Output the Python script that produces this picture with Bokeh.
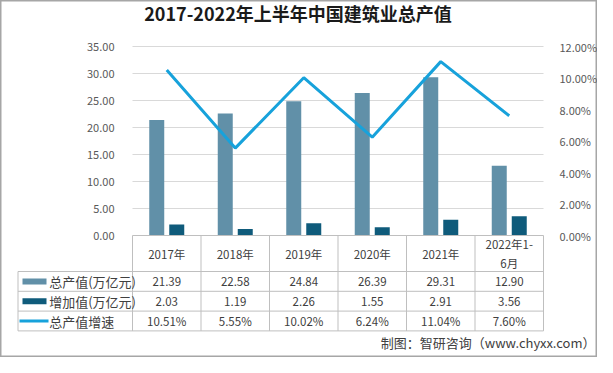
from bokeh.plotting import figure
from bokeh.models import (Range1d, LinearAxis, FixedTicker, NumeralTickFormatter, ColumnDataSource)
from bokeh.transform import dodge
from bokeh.core.properties import value
from bokeh.embed import file_html
from bokeh.resources import INLINE

# ---------------- data ----------------
years = ["2017年", "2018年", "2019年", "2020年", "2021年", "2022年1-\n6月"]
output = [21.39, 22.58, 24.84, 26.39, 29.31, 12.90]      # 总产值(万亿元)
added = [2.03, 1.19, 2.26, 1.55, 2.91, 3.56]             # 增加值(万亿元)
growth = [10.51, 5.55, 10.02, 6.24, 11.04, 7.60]         # 总产值增速 (%)
row_names = ["总产值(万亿元)", "增加值(万亿元)", "总产值增速"]
left_ticks = [0, 5, 10, 15, 20, 25, 30, 35]
right_ticks = [0, 0.02, 0.04, 0.06, 0.08, 0.10, 0.12]
title_text = "2017-2022年上半年中国建筑业总产值"
source_text = "制图：智研咨询（www.chyxx.com）"

# ---------------- style / layout constants ----------------
C1 = "#6190a8"
C2 = "#0f5b7b"
C3 = "#17a2db"
GRID = "#d9d9d9"
TBL = "#bfbfbf"
FONT = "Noto Sans CJK SC"

W, H = 597, 357
X0_PX, COL_PX = 132, 68.5          # left edge of first column, column width
Y0_PX, YTOP_PX = 235, 46           # pixel rows of value 0 and value 35
HEADER_H, ROW_H = 36, 19.8


def xpx(px):
    return (px - X0_PX) / COL_PX


n = len(years)
xc = [i + 0.5 for i in range(n)]
ppu = (Y0_PX - YTOP_PX) / left_ticks[-1]
y_start = -(H - Y0_PX) / ppu
y_end = left_ticks[-1] + YTOP_PX / ppu
pscale = right_ticks[-1] / left_ticks[-1]

src = ColumnDataSource(dict(x=xc, output=output, added=added,
                            growth=[g / 100 for g in growth]))

p = figure(width=W, height=H, x_range=Range1d(xpx(0), xpx(W)),
           y_range=Range1d(y_start, y_end),
           output_backend="svg", toolbar_location=None,
           min_border_left=0, min_border_right=0, min_border_top=0, min_border_bottom=0,
           x_axis_location=None, y_axis_location=None)
p.grid.visible = False
p.outline_line_color = "#a6a6a6"
p.outline_line_width = 2
p.background_fill_color = "white"
p.border_fill_color = "white"
p.extra_y_ranges = {"pct": Range1d(y_start * pscale, y_end * pscale),
                    "tbl": Range1d(H - Y0_PX, -Y0_PX)}

# gridlines
gt = left_ticks[1:]
p.segment(x0=[0] * len(gt), y0=gt, x1=[n] * len(gt), y1=gt, line_color=GRID, line_width=1)

# bars and line
p.vbar(x=dodge("x", -0.146), top="output", width=0.219, source=src,
       fill_color=C1, line_color=None)
p.vbar(x=dodge("x", 0.146), top="added", width=0.219, source=src,
       fill_color=C2, line_color=None)
p.line("x", "growth", source=src, y_range_name="pct", line_width=3, line_color=C3)

# axes fixed at the edges of the category area
ya = LinearAxis(fixed_location=0, ticker=FixedTicker(ticks=left_ticks),
                formatter=NumeralTickFormatter(format="0.00"))
ra = LinearAxis(fixed_location=n, y_range_name="pct", ticker=FixedTicker(ticks=right_ticks),
                formatter=NumeralTickFormatter(format="0.00%"))
for ax in (ya, ra):
    ax.axis_line_color = None
    ax.major_tick_line_color = None
    ax.minor_tick_line_color = None
    ax.major_label_text_font = FONT
    ax.major_label_text_font_size = "11px"
    ax.major_label_text_color = "#595959"
ya.major_label_standoff = 12
ra.major_label_standoff = 10
p.add_layout(ya, "left")
p.add_layout(ra, "right")

# ---------------- data table ----------------
LEFT = xpx(17.5)
nrows = len(row_names)
bounds = [HEADER_H + ROW_H * r for r in range(nrows + 1)]
centers = [HEADER_H + ROW_H * (r + 0.5) for r in range(nrows)]

hx0 = [0] + [LEFT] * len(bounds)
hx1 = [n] * (len(bounds) + 1)
hy = [0] + bounds
p.segment(x0=hx0, y0=hy, x1=hx1, y1=hy, y_range_name="tbl", line_color=TBL, line_width=1)
vx = list(range(n + 1)) + [LEFT]
vy0 = [0] * (n + 1) + [bounds[0]]
vy1 = [bounds[-1]] * (n + 2)
p.segment(x0=vx, y0=vy0, x1=vx, y1=vy1, y_range_name="tbl", line_color=TBL, line_width=1)

# header (categories)
p.text(x=xc, y=[HEADER_H / 2] * n, text=years, y_range_name="tbl",
       text_align="center", text_baseline="middle",
       text_font=value(FONT), text_font_size="11.5px", text_color="#404040")

cells_x, cells_y, cells_t = [], [], []
for i in range(n):
    cells_x += [xc[i]] * nrows
    cells_y += centers
    cells_t += [f"{output[i]:.2f}", f"{added[i]:.2f}", f"{growth[i]:.2f}%"]
p.text(x=cells_x, y=cells_y, text=cells_t, y_range_name="tbl",
       text_align="center", text_baseline="middle",
       text_font=value(FONT), text_font_size="11.5px", text_color="#404040")

p.text(x=[xpx(48.7)] * nrows, y=centers, text=row_names, y_range_name="tbl",
       text_align="left", text_baseline="middle",
       text_font=value(FONT), text_font_size="13px", text_color="#404040")
p.rect(x=[xpx(34)] * 2, y=centers[:2], width=24, height=6, y_range_name="tbl",
       width_units="screen", height_units="screen",
       fill_color=[C1, C2], line_color=None)
p.segment(x0=[xpx(19)], y0=[centers[2]], x1=[xpx(48)], y1=[centers[2]], y_range_name="tbl",
          line_color=C3, line_width=3)

# title and source note
p.text(x=[xpx(297.5)], y=[12 - Y0_PX], text=[title_text], y_range_name="tbl",
       text_align="center", text_baseline="middle", text_font=value(FONT),
       text_font_size="18px", text_font_style="bold", text_color="#1a1a1a")
p.text(x=[xpx(595)], y=[342 - Y0_PX], text=[source_text], y_range_name="tbl",
       text_align="right", text_baseline="middle", text_font=value(FONT),
       text_font_size="13px", text_color="#404040")

open("out.html", "w").write(file_html(p, INLINE))
